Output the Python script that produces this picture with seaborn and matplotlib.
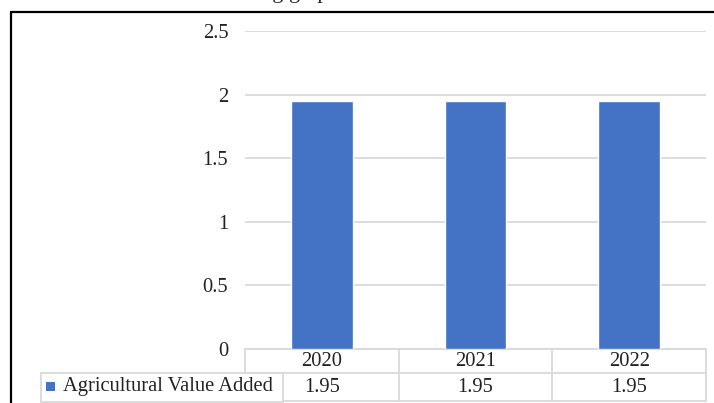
import matplotlib
matplotlib.use("Agg")
from matplotlib import pyplot as plt
from matplotlib.lines import Line2D
from matplotlib.patches import Rectangle
import matplotlib.transforms as mtransforms
import seaborn as sns
import pandas as pd

years = ["2020", "2021", "2022"]
values = [1.95, 1.95, 1.95]
series_name = "Agricultural Value Added"
y_ticks = [0, 0.5, 1, 1.5, 2, 2.5]
y_tick_labels = ["0", "0.5", "1", "1.5", "2", "2.5"]

bar_color = "#4472C4"
grid_color = "#D9D9D9"
W, H = 714, 403
fs = 14.8

sns.set_style("white")
plt.rcParams["font.family"] = ["Liberation Serif", "DejaVu Serif"]

df = pd.DataFrame({"year": years, "value": values})

fig = plt.figure(figsize=(W / 100, H / 100), dpi=100)
ax = fig.add_axes([245 / W, (H - 349) / H, 461 / W, (349 - 31) / H])

sns.barplot(data=df, x="year", y="value", color=bar_color, width=0.4,
            saturation=1, ax=ax, zorder=3)

ax.set_ylim(0, 2.5)
ax.set_xlim(-0.5, 2.5)
ax.set_yticks(y_ticks)
ax.set_yticklabels(y_tick_labels, fontsize=fs)
ax.set_xticks([])
ax.set_xlabel("")
ax.set_ylabel("")
ax.tick_params(axis="y", length=0, pad=12, labelcolor="#222222")
ax.grid(axis="y", color=grid_color, linewidth=1.3, zorder=0)
for s in ax.spines.values():
    s.set_visible(False)

# data table under the plot (x in data units, y in pixels below the axes)
px = 1 / (349 - 31)
trans = mtransforms.blended_transform_factory(ax.transData, ax.transAxes)
row_top, row_mid, row_bot = 0, -24 * px, -52 * px
tbl = dict(color=grid_color, linewidth=1.3, clip_on=False, transform=trans)
for xb in [-0.5, 0.5, 1.5, 2.5]:
    ax.add_line(Line2D([xb, xb], [row_top, row_bot], **tbl))
for yb in [row_top, row_mid, row_bot]:
    ax.add_line(Line2D([-0.5, 2.5], [yb, yb], **tbl))
for i, (yr, v) in enumerate(zip(years, values)):
    ax.text(i, (row_top + row_mid) / 2, yr, transform=trans, ha="center",
            va="center", fontsize=fs, color="#222222", clip_on=False)
    ax.text(i, (row_mid + row_bot) / 2, f"{v:.2f}", transform=trans,
            ha="center", va="center", fontsize=fs, color="#222222",
            clip_on=False)

# legend key cell
fig.patches.append(Rectangle((41 / W, (H - 402) / H), 242 / W, 29 / H,
                             transform=fig.transFigure, facecolor="white",
                             edgecolor=grid_color, linewidth=1.3, zorder=5))
fig.patches.append(Rectangle((46 / W, (H - 391) / H), 9 / W, 9 / H,
                             transform=fig.transFigure, facecolor=bar_color,
                             edgecolor="none", zorder=6))
fig.text(63 / W, (H - 387) / H, series_name, fontsize=fs, ha="left",
         va="center", color="#222222", zorder=7)

# outer frame (top and left edges only visible)
fig.lines.append(Line2D([11 / W, 1], [(H - 12) / H] * 2, color="black",
                        linewidth=1.6, transform=fig.transFigure))
fig.lines.append(Line2D([11 / W] * 2, [0, (H - 12) / H], color="black",
                        linewidth=1.6, transform=fig.transFigure))

# caption above, cut off by the page edge
fig.text(340 / W, 1 + 2 / H, "the following graph", fontsize=16,
         ha="right", va="baseline")

fig.savefig("out.png", dpi=100)
